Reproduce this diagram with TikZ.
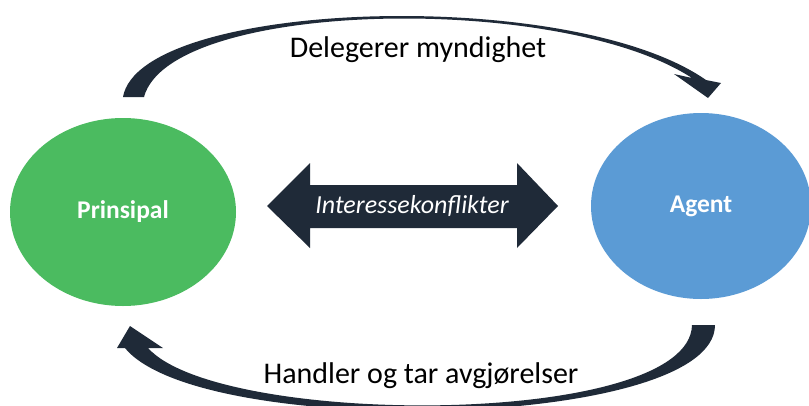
\documentclass[tikz,border=0pt]{standalone}
\usepackage{fontspec}
\setmainfont{Carlito}
\usetikzlibrary{shapes.geometric}
\definecolor{navy}{HTML}{1F2A38}
\definecolor{pgreen}{HTML}{4BBB60}
\definecolor{pblue}{HTML}{5B9BD5}
\begin{document}
\begin{tikzpicture}[x=1pt,y=-1pt,
  blob/.style={ellipse, inner sep=0pt, text=white, font=\bfseries\fontsize{25.5}{30}\selectfont},
  lbl/.style={font=\fontsize{30}{36}\selectfont, text=black, inner sep=0pt},
  arrowfill/.style={fill=navy, draw=none}]
\useasboundingbox (0,0) rectangle (809,405);
\fill[white] (0,0) rectangle (809,405);
\clip (0,0) rectangle (809,405);

% ellipses
\node[blob, fill=pgreen, minimum width=226pt, minimum height=188pt] (prin) at (123,212) {Prinsipal};
\node[blob, fill=pblue, minimum width=220pt, minimum height=186pt] (agent) at (701,206) {Agent};

% top curved arrow
\fill[arrowfill] (123,97) .. controls (140,0) and (570,-15) .. (706,80)
  -- (721,83) -- (708,98) -- (674,74) -- (692,78)
  .. controls (560,-8) and (170,0) .. (144,97) -- cycle;

% bottom curved arrow
\fill[arrowfill] (715,325) .. controls (715,430) and (200,440) .. (125,348)
  -- (117,348) -- (130,326) -- (163,348) -- (148,348)
  .. controls (220,428) and (690,428) .. (692,325) -- cycle;

% double arrow
\fill[arrowfill] (267,206) -- (310,163) -- (310,185) -- (517,185) -- (517,163)
  -- (558,206) -- (517,248) -- (517,228) -- (310,228) -- (310,248) -- cycle;
\node[text=white, inner sep=0pt, font=\itshape\fontsize{26}{31}\selectfont] (konf) at (412,206) {Interessekonflikter};

% labels
\node[lbl, anchor=base] (deleg) at (418,57) {Delegerer myndighet};
\node[lbl, anchor=base] (handl) at (421,383) {Handler og tar avgjørelser};
\end{tikzpicture}
\end{document}
